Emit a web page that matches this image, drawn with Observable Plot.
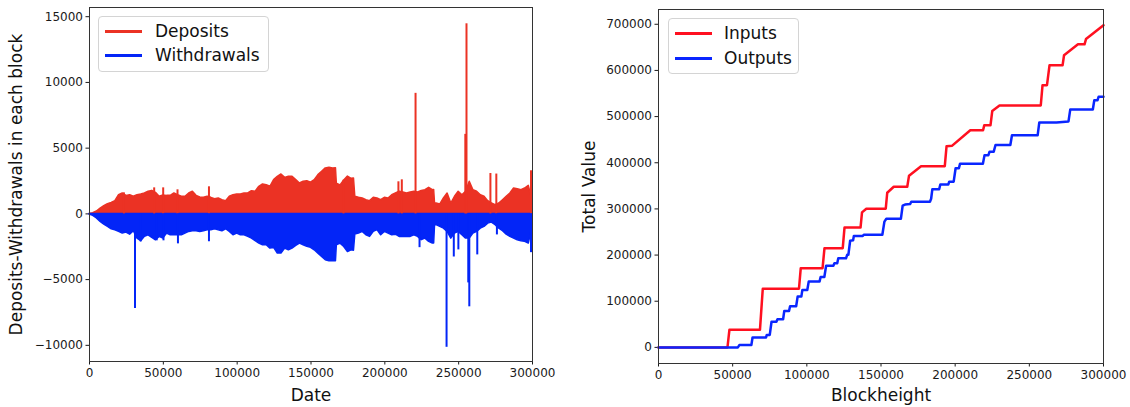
<!DOCTYPE html>
<html><head><meta charset="utf-8">
<script src="https://cdn.jsdelivr.net/npm/d3@7"></script>
<script src="https://cdn.jsdelivr.net/npm/@observablehq/plot@0.6"></script>
<style>
body{margin:0;background:#fff;font-family:"DejaVu Sans",sans-serif;}
#wrap{position:relative;width:1130px;height:407px;overflow:hidden;background:#fff}
#wrap svg{position:absolute;top:0}
.legend{position:absolute;border:1px solid #d4d4d4;border-radius:4px;background:rgba(255,255,255,0.85);box-sizing:border-box}
.legend .ln{position:absolute;left:6px;width:37px;height:3px}
.legend .tx{position:absolute;font-size:17px;line-height:20px;color:#111;white-space:nowrap}
</style></head>
<body><div id="wrap"></div>
<script>
// ---------- Left panel data: per-block deposits / withdrawals (envelope) ----------
const blockL = [0,2500,5000,7500,10000,12500,15000,17500,20000,22500,25000,27500,30000,32500,35000,37500,40000,42500,45000,47500,50000,52500,55000,57500,60000,62500,65000,67500,70000,72500,75000,77500,80000,82500,85000,87500,90000,92500,95000,97500,100000,102500,105000,107500,110000,112500,115000,117500,120000,122500,125000,127500,130000,132500,135000,137500,140000,142500,145000,147500,150000,152500,155000,157500,160000,162500,165000,166900,167500,170000,172500,175000,177500,179100,180000,182500,185000,187500,190000,192500,195000,197500,200000,202500,205000,207500,210000,212500,215000,217500,220000,222500,225000,227500,230000,232500,233400,234000,235000,237500,240000,242500,245000,247500,250000,252500,255000,257500,260000,262500,265000,267500,270000,272500,275000,277500,280000,282500,285000,287500,290000,292500,295000,297500,300000];
const deposits = [0,50,180,400,580,740,840,970,1420,1550,
1370,1420,1300,1420,1470,1550,1680,1750,1600,1300,
1400,1370,1370,1550,1420,1300,1300,1550,1680,1370,
1250,1220,1300,1220,1120,1170,1040,970,1300,1420,
1470,1470,1550,1550,1730,1680,2060,2240,2180,2060,
2570,2820,3000,2740,2820,2820,2570,2310,2440,2490,
2380,2570,2950,3200,3460,3510,3460,3480,2290,2160,2540,
2840,2670,2700,1300,1220,1170,1040,970,1220,1170,1040,
1220,1170,1420,1550,1680,1630,1550,1630,1680,1630,
1740,1800,1980,1800,1820,790,790,710,1170,1550,790,1300,
1680,1420,1680,2440,1800,1680,1420,1300,970,790,
660,790,1040,1300,1550,1930,1880,1800,1930,2130,1000];
const withdrawals = [-50,-150,-350,-610,-810,-990,-1170,-1250,-1370,-1500,
-1420,-1580,-1320,-1880,-2080,-1750,-1630,-1830,-2010,-1750,
-1880,-1500,-1630,-1630,-1630,-1630,-1500,-1370,-1320,-1320,
-1370,-1320,-1250,-1250,-1170,-1250,-1320,-1170,-1370,-1630,
-1500,-1630,-1630,-1750,-1880,-2080,-2260,-2390,-2390,-2640,
-2590,-3020,-3020,-2640,-2770,-2640,-2440,-2260,-2390,-2510,
-2580,-2770,-3020,-3280,-3530,-3610,-3610,-3600,-2390,-2260,-2520,
-2900,-2770,-2800,-1580,-1500,-1370,-1630,-1750,-1370,-1240,-1630,
-1370,-1500,-1630,-1580,-1750,-1750,-1750,-1750,-1630,-1750,
-2000,-1880,-2130,-2260,-2260,-860,-860,-990,-1120,-1370,-1880,-1500,
-1370,-1630,-1880,-1880,-1500,-1370,-1120,-990,-740,-660,
-860,-1120,-1320,-1580,-1750,-1880,-2010,-2080,-2130,-2260,-1000];
const depSpikeX = [23300,43800,49900,59600,80900,172000,209200,211500,220800,254500,255300,271500,275500,299000];
const depSpikeY = [1600,1980,1980,1830,2060,2560,2440,2590,9170,6050,14460,3070,3030,3280];
const wdrSpikeX = [30800,34600,45500,50100,59900,80900,223500,241800,246700,249800,256500,257200,262600,275900,299000];
const wdrSpikeY = [-7200,-2130,-2050,-2050,-2280,-2120,-2570,-10150,-3280,-2740,-5250,-7070,-3120,-1600,-2950];

// ---------- Right panel data: cumulative inputs / outputs ----------
const inputsX = [0,46500,47800,68400,70300,94700,95900,110600,111900,124200,125400,136200,137200,140100,153200,154200,158600,167700,168900,177000,193000,194200,198000,210200,218800,219600,223800,225000,229900,257700,258900,261900,263600,272400,273400,282800,287200,288200,300000];
const inputsY = [0,0,38000,38000,127000,127000,171500,171500,215000,215000,259500,259500,292500,300500,300500,335000,348000,348000,372000,392500,392500,436000,437000,470500,470500,481000,481000,512000,524000,524000,568000,568000,611000,611000,633000,656500,656500,668000,698000];
const outputsX = [0,53500,54500,62600,63400,72500,73000,75000,76200,79500,80200,84000,84800,88000,88700,92800,93800,96300,97000,100300,101300,108600,109300,111800,113000,117900,118600,120500,121200,126400,127200,128000,129200,131200,131700,137700,138400,150900,152300,153600,163400,164600,166200,169600,170400,183000,183800,184600,189200,190000,195400,196000,199000,200300,202500,203300,218700,219800,222400,223200,226000,227200,237200,238300,255600,256700,268300,276400,277600,292800,293800,296000,296700,300000];
const outputsY = [0,0,5000,5000,21500,21500,27000,27000,55500,55500,61000,61000,79000,79000,89000,89000,110000,110000,124500,124500,143000,143000,152500,152500,177000,177000,182500,182500,193000,193000,200500,200500,231000,232000,241500,241500,244000,244000,272500,278500,278500,307000,309500,310500,315500,315500,322000,342500,342500,353000,353000,359000,359000,388000,388000,398000,398000,416500,416500,424000,424000,438500,438500,459500,459500,487000,487000,489500,515500,515500,535500,535500,543000,543000];

// ---------- Ticks and labels ----------
const xTicks = [0,50000,100000,150000,200000,250000,300000];
const leftYTicks = [-10000,-5000,0,5000,10000,15000];
const rightYTicks = [0,100000,200000,300000,400000,500000,600000,700000];
const leftXLabel = "Date";
const leftYLabel = "Deposits-Withdrawals in each block";
const rightXLabel = "Blockheight";
const rightYLabel = "Total Value";
const leftSeries = ["Deposits","Withdrawals"];
const rightSeries = ["Inputs","Outputs"];

const RED_L = "#eb3224", BLUE_L = "#0325f7", RED_R = "#ff1020", BLUE_R = "#0a26ff";
const fmt = d3.format("d");

const depData = blockL.map((b,i)=>({b, v: deposits[i]}));
const wdrData = blockL.map((b,i)=>({b, v: withdrawals[i]}));
const depSp = depSpikeX.map((b,i)=>({b, v: depSpikeY[i]}));
const wdrSp = wdrSpikeX.map((b,i)=>({b, v: wdrSpikeY[i]}));
const inData = inputsX.map((b,i)=>({b, v: inputsY[i]}));
const outData = outputsX.map((b,i)=>({b, v: outputsY[i]}));

const baseStyle = {fontFamily:"DejaVu Sans", fontSize:"12px", color:"#1a1a1a", background:"transparent", overflow:"visible"};

const left = Plot.plot({
  width: 565, height: 407,
  marginLeft: 89, marginRight: 33, marginTop: 7, marginBottom: 46,
  style: baseStyle,
  x: {domain:[0,300000], ticks: xTicks, tickFormat: fmt, tickSize: 3.5, tickPadding: 3, label: null},
  y: {domain:[-11230,15700], ticks: leftYTicks, tickFormat: fmt, tickSize: 3.5, tickPadding: 3, label: null},
  marks: [
    Plot.areaY(depData, {x:"b", y1:0, y2:"v", curve:"linear", fill:RED_L, stroke:RED_L, strokeWidth:1.5}),
    Plot.areaY(wdrData, {x:"b", y1:0, y2:"v", curve:"linear", fill:BLUE_L, stroke:BLUE_L, strokeWidth:1.5}),
    Plot.ruleX(depSp, {x:"b", y1:0, y2:"v", stroke:RED_L, strokeWidth:2}),
    Plot.ruleX(wdrSp, {x:"b", y1:0, y2:"v", stroke:BLUE_L, strokeWidth:2}),
    Plot.frame({stroke:"#333", strokeWidth:1}),
    Plot.text([leftXLabel], {text:d=>d, frameAnchor:"bottom", lineAnchor:"bottom", dy:39, fontSize:17, fill:"#111"}),
    Plot.text([leftYLabel], {text:d=>d, frameAnchor:"left", textAnchor:"middle", rotate:-90, dx:-73, fontSize:17, fill:"#111"})
  ]
});

const right = Plot.plot({
  width: 565, height: 407,
  marginLeft: 93, marginRight: 27, marginTop: 9, marginBottom: 44,
  style: baseStyle,
  x: {domain:[0,300000], ticks: xTicks, tickFormat: fmt, tickSize: 3.5, tickPadding: 3, label: null},
  y: {domain:[-34900,732000], ticks: rightYTicks, tickFormat: fmt, tickSize: 3.5, tickPadding: 3, label: null},
  marks: [
    Plot.line(inData, {x:"b", y:"v", stroke:RED_R, strokeWidth:2.5}),
    Plot.line(outData, {x:"b", y:"v", stroke:BLUE_R, strokeWidth:2.5}),
    Plot.frame({stroke:"#333", strokeWidth:1}),
    Plot.text([rightXLabel], {text:d=>d, frameAnchor:"bottom", lineAnchor:"bottom", dy:37, fontSize:17, fill:"#111"}),
    Plot.text([rightYLabel], {text:d=>d, frameAnchor:"left", textAnchor:"middle", rotate:-90, dx:-69, fontSize:17, fill:"#111"})
  ]
});

const wrap = document.getElementById("wrap");
left.style.left = "0px";
right.style.left = "565px";
wrap.appendChild(left);
wrap.appendChild(right);

function legend(x, y, w, h, names, colors, textLeft, rowTops) {
  const box = document.createElement("div");
  box.className = "legend";
  Object.assign(box.style, {left:x+"px", top:y+"px", width:w+"px", height:h+"px"});
  names.forEach((n,i)=>{
    const ln = document.createElement("div");
    ln.className = "ln";
    ln.style.top = (rowTops[i]-1)+"px";
    ln.style.background = colors[i];
    const tx = document.createElement("div");
    tx.className = "tx";
    tx.style.left = textLeft+"px";
    tx.style.top = (rowTops[i]-10)+"px";
    tx.textContent = n;
    box.appendChild(ln); box.appendChild(tx);
  });
  wrap.appendChild(box);
}
legend(98, 16, 171, 56, leftSeries, [RED_L, BLUE_L], 56, [14, 38]);
legend(668, 18, 131, 56, rightSeries, [RED_R, BLUE_R], 55, [14, 39]);
</script></body></html>
